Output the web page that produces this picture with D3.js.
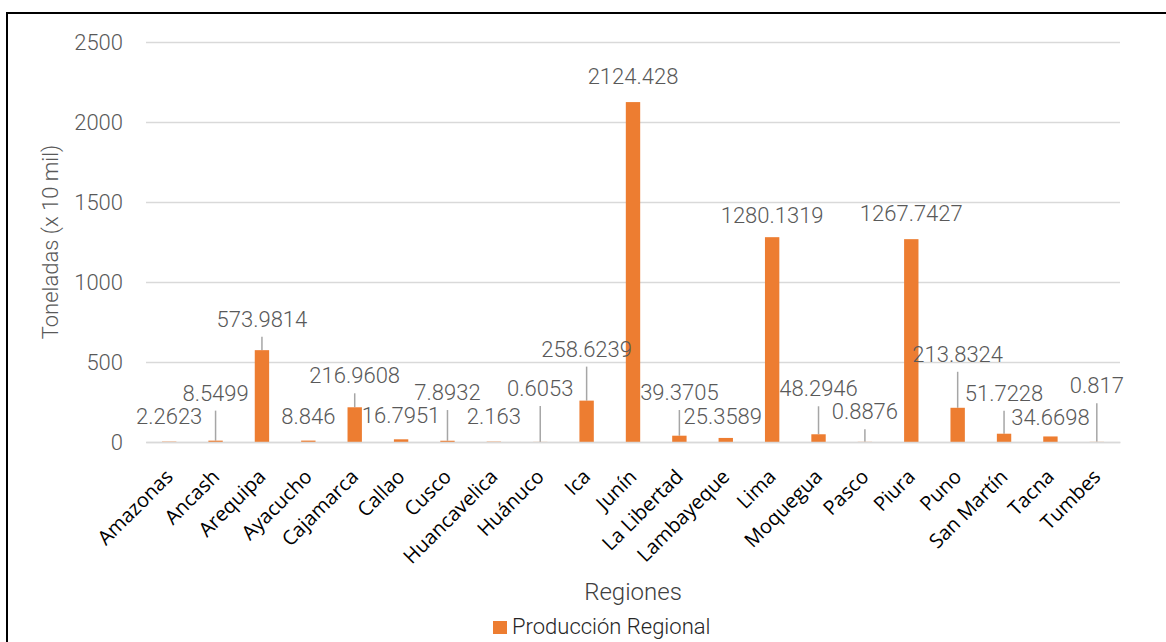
<!DOCTYPE html>
<html>
<head>
<meta charset="utf-8">
<script src="https://cdn.jsdelivr.net/npm/d3@7"></script>
<style>
  html, body { margin: 0; padding: 0; background: #fff; }
  svg { display: block; }
</style>
</head>
<body>
<svg id="chart" width="1166" height="642"></svg>
<script>
// ---- data ----
const categories = ["Amazonas","Ancash","Arequipa","Ayacucho","Cajamarca","Callao","Cusco","Huancavelica","Huánuco","Ica","Junín","La Libertad","Lambayeque","Lima","Moquegua","Pasco","Piura","Puno","San Martín","Tacna","Tumbes"];
const values = [2.2623, 8.5499, 573.9814, 8.846, 216.9608, 16.7951, 7.8932, 2.163, 0.6053, 258.6239, 2124.428, 39.3705, 25.3589, 1280.1319, 48.2946, 0.8876, 1267.7427, 213.8324, 51.7228, 34.6698, 0.817];
const valueLabels = ["2.2623","8.5499","573.9814","8.846","216.9608","16.7951","7.8932","2.163","0.6053","258.6239","2124.428","39.3705","25.3589","1280.1319","48.2946","0.8876","1267.7427","213.8324","51.7228","34.6698","0.817"];
const yTicks = [0, 500, 1000, 1500, 2000, 2500];
const seriesName = "Producción Regional";
const xTitle = "Regiones";
const yTitle = "Toneladas (x 10 mil)";

// ---- label layout (data-label placement as in the original, in px) ----
const labelLift = [18, 40, 23.5, 17, 24, 16, 40.7, 17.7, 46, 44, 18, 35.7, 14, 14, 38, 22.6, 18, 46, 33, 11, 48.6];
const hasLeader = [0, 1, 1, 0, 1, 0, 1, 0, 1, 1, 0, 1, 0, 0, 1, 1, 0, 1, 1, 0, 1];
const labelDx = [0, 0, 0, 0, 0, 0, 0, 0, 0, 0, 0, 0, -3, 0, 0, 0, 0, 0, 0, 0, 0];

// ---- layout ----
const W = 1166, H = 642;
const plot = { left: 146, right: 1120, top: 42, bottom: 442 };
const orange = "#ed7d31";
const grid = "#d9d9d9";
const labelColor = "#595959";
const lightFont = "Roboto, 'Open Sans', sans-serif";

const svg = d3.select("#chart");

// frame
svg.append("rect")
  .attr("x", 7).attr("y", 13)
  .attr("width", W + 20).attr("height", H + 20)
  .attr("fill", "#fff").attr("stroke", "#000").attr("stroke-width", 2);

const x = d3.scaleBand()
  .domain(categories)
  .range([plot.left, plot.right])
  .paddingInner(0.69)
  .paddingOuter(0.345);

const y = d3.scaleLinear()
  .domain([0, 2500])
  .range([plot.bottom, plot.top]);

const cx = c => x(c) + x.bandwidth() / 2;

// gridlines + y tick labels via axis
const yAxis = d3.axisLeft(y).tickValues(yTicks).tickSize(-(plot.right - plot.left)).tickPadding(23).tickFormat(d3.format("d"));
const gy = svg.append("g").attr("transform", `translate(${plot.left},0)`).call(yAxis);
gy.select(".domain").remove();
gy.selectAll(".tick line").attr("stroke", grid).attr("stroke-width", 1.5);
gy.selectAll(".tick text")
  .attr("fill", labelColor)
  .style("font-family", lightFont)
  .style("font-weight", 300)
  .style("font-size", "22px");

// leader lines
svg.append("g").selectAll("line")
  .data(categories.map((c, i) => ({ c, i })).filter(d => hasLeader[d.i]))
  .join("line")
  .attr("x1", d => cx(d.c)).attr("x2", d => cx(d.c))
  .attr("y1", d => y(values[d.i]) - labelLift[d.i] + 10)
  .attr("y2", d => y(values[d.i]))
  .attr("stroke", "#a6a6a6").attr("stroke-width", 1.5);

// bars
svg.append("g").selectAll("rect")
  .data(categories)
  .join("rect")
  .attr("x", d => x(d))
  .attr("width", x.bandwidth())
  .attr("y", (d, i) => y(values[i]))
  .attr("height", (d, i) => y(0) - y(values[i]))
  .attr("fill", orange);

// x axis line + labels
const xAxis = d3.axisBottom(x).tickSize(0).tickPadding(0);
const gx = svg.append("g").attr("transform", `translate(0,${plot.bottom})`).call(xAxis);
gx.select(".domain").attr("stroke", grid).attr("stroke-width", 1.5);
gx.selectAll(".tick text")
  .attr("fill", "#000")
  .attr("text-anchor", "end")
  .attr("transform", "translate(5,36) rotate(-45)")
  .attr("y", 0).attr("dy", 0)
  .style("font-family", "'Open Sans', sans-serif")
  .style("font-size", "20px");

// data labels
svg.append("g").selectAll("text")
  .data(categories)
  .join("text")
  .attr("x", (d, i) => cx(d) + labelDx[i])
  .attr("y", (d, i) => y(values[i]) - labelLift[i])
  .attr("text-anchor", "middle")
  .attr("fill", labelColor)
  .style("font-family", lightFont)
  .style("font-weight", 300)
  .style("font-size", "22px")
  .text((d, i) => valueLabels[i]);

// axis titles
svg.append("text")
  .attr("transform", `translate(58,${(plot.top + plot.bottom) / 2}) rotate(-90)`)
  .attr("text-anchor", "middle")
  .attr("fill", labelColor)
  .style("font-family", lightFont)
  .style("font-weight", 300)
  .style("font-size", "22px")
  .text(yTitle);

svg.append("text")
  .attr("x", (plot.left + plot.right) / 2)
  .attr("y", 600)
  .attr("text-anchor", "middle")
  .attr("fill", "#404040")
  .style("font-family", lightFont)
  .style("font-weight", 300)
  .style("font-size", "24px")
  .text(xTitle);

// legend
const lg = svg.append("g");
lg.append("rect").attr("x", 493).attr("y", 621).attr("width", 14).attr("height", 13).attr("fill", orange);
lg.append("text").attr("x", 512).attr("y", 634)
  .attr("fill", "#262626")
  .style("font-family", lightFont)
  .style("font-weight", 300)
  .style("font-size", "22px")
  .text(seriesName);
</script>
</body>
</html>
